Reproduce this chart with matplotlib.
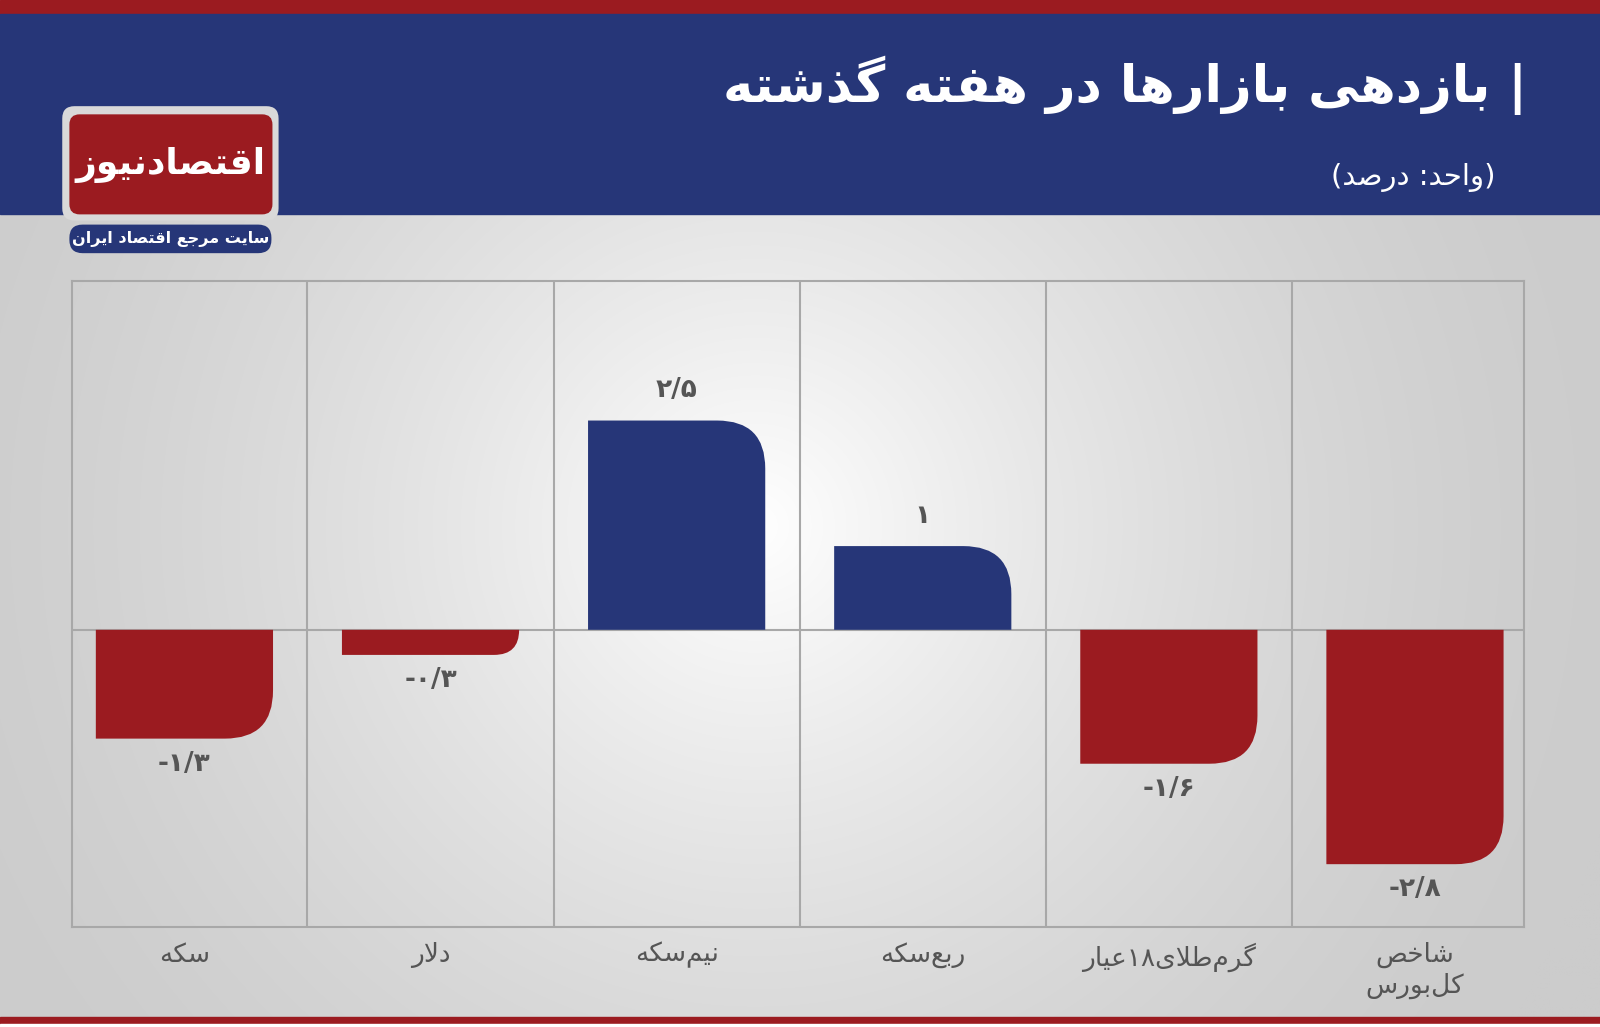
import numpy as np
import matplotlib
matplotlib.use("Agg")
import matplotlib.pyplot as plt
from matplotlib.path import Path
from matplotlib.patches import PathPatch, FancyBboxPatch, Rectangle

plt.rcParams['font.family'] = ['DejaVu Sans']

# ---------------- data ----------------
categories = ["سکه", "دلار", "نیم\u200cسکه", "ربع\u200cسکه", "گرم\u200cطلای۱۸عیار", "شاخص\nکل\u200cبورس"]
values = [-1.3, -0.3, 2.5, 1.0, -1.6, -2.8]
value_labels = ["-۱/۳", "-۰/۳", "۲/۵", "۱", "-۱/۶", "-۲/۸"]
title = "| بازدهی بازارها در هفته گذشته"
subtitle = "(واحد: درصد)"
logo_text = "اقتصادنیوز"
logo_sub = "سایت مرجع اقتصاد ایران"

# ------------- minimal Arabic/Persian shaper -------------
FORMS = {  # iso, fin, ini, med
    'ا': ('\uFE8D', '\uFE8E', None, None), 'ب': ('\uFE8F', '\uFE90', '\uFE91', '\uFE92'),
    'ت': ('\uFE95', '\uFE96', '\uFE97', '\uFE98'), 'ج': ('\uFE9D', '\uFE9E', '\uFE9F', '\uFEA0'),
    'ح': ('\uFEA1', '\uFEA2', '\uFEA3', '\uFEA4'), 'خ': ('\uFEA5', '\uFEA6', '\uFEA7', '\uFEA8'),
    'د': ('\uFEA9', '\uFEAA', None, None), 'ذ': ('\uFEAB', '\uFEAC', None, None),
    'ر': ('\uFEAD', '\uFEAE', None, None), 'ز': ('\uFEAF', '\uFEB0', None, None),
    'س': ('\uFEB1', '\uFEB2', '\uFEB3', '\uFEB4'), 'ش': ('\uFEB5', '\uFEB6', '\uFEB7', '\uFEB8'),
    'ص': ('\uFEB9', '\uFEBA', '\uFEBB', '\uFEBC'), 'ط': ('\uFEC1', '\uFEC2', '\uFEC3', '\uFEC4'),
    'ع': ('\uFEC9', '\uFECA', '\uFECB', '\uFECC'), 'ف': ('\uFED1', '\uFED2', '\uFED3', '\uFED4'),
    'ق': ('\uFED5', '\uFED6', '\uFED7', '\uFED8'), 'ک': ('\uFB8E', '\uFB8F', '\uFB90', '\uFB91'),
    'گ': ('\uFB92', '\uFB93', '\uFB94', '\uFB95'), 'ل': ('\uFEDD', '\uFEDE', '\uFEDF', '\uFEE0'),
    'م': ('\uFEE1', '\uFEE2', '\uFEE3', '\uFEE4'), 'ن': ('\uFEE5', '\uFEE6', '\uFEE7', '\uFEE8'),
    'ه': ('\uFEE9', '\uFEEA', '\uFEEB', '\uFEEC'), 'و': ('\uFEED', '\uFEEE', None, None),
    'ی': ('\uFBFC', '\uFBFD', '\uFBFE', '\uFBFF'), 'LA': ('\uFEFB', '\uFEFC', None, None),
}

def shape_line(s):
    toks = []
    i = 0
    while i < len(s):
        if s[i] == 'ل' and i + 1 < len(s) and s[i + 1] == 'ا':
            toks.append('LA'); i += 2
        else:
            toks.append(s[i]); i += 1
    out = []
    for k, t in enumerate(toks):
        if t not in FORMS:
            out.append(t); continue
        prev = toks[k - 1] if k > 0 else None
        nxt = toks[k + 1] if k + 1 < len(toks) else None
        cp = prev in FORMS and FORMS[prev][2] is not None
        cn = nxt in FORMS and FORMS[t][2] is not None
        f = FORMS[t]
        out.append(f[3] if cp and cn else f[1] if cp else f[2] if cn else f[0])
    out = [c for c in out if c != '\u200c']
    def is_ltr(c):
        return c.isdigit() or c in '٫.' or ('a' <= c.lower() <= 'z')
    runs = []
    for c in out:
        l = is_ltr(c)
        if runs and runs[-1][0] == l:
            runs[-1][1].append(c)
        else:
            runs.append([l, [c]])
    vis = []
    for l, cs in reversed(runs):
        vis.extend(cs if l else reversed(cs))
    mirror = {'(': ')', ')': '('}
    return ''.join(mirror.get(c, c) for c in vis)

def fa(s):
    return '\n'.join(shape_line(x) for x in s.split('\n'))

# ---------------- figure ----------------
W, H = 1568, 1006   # layout coordinate frame
fig = plt.figure(figsize=(16, 10.27), dpi=100)

bg = fig.add_axes([0, 0, 1, 1])
bg.set_xlim(0, W); bg.set_ylim(H, 0); bg.axis('off')
yy, xx = np.mgrid[0:H, 0:W]
d = np.sqrt((xx - 740) ** 2 + (yy - 515) ** 2)
g = np.clip(1 - d / 880, 0, 1)
lum = 0.80 + 0.20 * g ** 1.6
img = np.dstack([lum, lum, lum])
bg.imshow(img, extent=[0, W, H, 0], aspect='auto', zorder=0)
blue = '#263678'
red = '#9b1b20'
bg.add_patch(Rectangle((0, 0), W, 14, color=red, zorder=1))
bg.add_patch(Rectangle((0, 14), W, 196, color=blue, zorder=1))
bg.add_patch(Rectangle((0, 996), W, 8, color=red, zorder=1))
bg.add_patch(Rectangle((0, 1003), W, 3, color='white', zorder=1))
bg.text(1496, 84, fa(title), color='white', fontsize=37, fontweight='bold', ha='right', va='center', zorder=2)
bg.text(1466, 174, fa(subtitle), color='white', fontsize=21, ha='right', va='center', zorder=2)
# logo
bg.add_patch(FancyBboxPatch((61, 104), 212, 112, boxstyle='round,pad=0,rounding_size=12', fc='#d9d9d9', ec='none', zorder=2))
bg.add_patch(FancyBboxPatch((68, 112), 199, 98, boxstyle='round,pad=0,rounding_size=10', fc=red, ec='none', zorder=3))
bg.text(167, 162, fa(logo_text), color='white', fontsize=26, fontweight='bold', ha='center', va='center', zorder=4)
bg.add_patch(FancyBboxPatch((68, 220), 198, 28, boxstyle='round,pad=0,rounding_size=13', fc=blue, ec='none', zorder=3))
bg.text(167, 234, fa(logo_sub), color='white', fontsize=11.5, fontweight='bold', ha='center', va='center', zorder=4)

# ---------------- chart ----------------
ax = fig.add_axes([71 / W, 1 - 908 / H, (1494 - 71) / W, (908 - 275) / H])
ax.patch.set_alpha(0)
ax.set_xlim(-0.455, 5.445)
ax.set_ylim(-3.55, 4.17)
for s in ax.spines.values():
    s.set_color('#a8a8a8'); s.set_linewidth(1.5)
ax.set_xticks([]); ax.set_yticks([])
for k in range(len(values) - 1):
    ax.axvline(k + 0.5, color='#a8a8a8', lw=1.5, zorder=1)
ax.axhline(0, color='#a8a8a8', lw=1.5, zorder=1)

fig.canvas.draw()
bw = 0.72
trans = ax.transData
for k, v in enumerate(values):
    x0, y0 = trans.transform((k - bw / 2, 0))
    x1, y1 = trans.transform((k + bw / 2, v))
    h = abs(y1 - y0)
    r = min(48, h, (x1 - x0) / 2)
    sgn = 1 if y1 > y0 else -1
    verts = [(x0, y0), (x0, y1), (x1 - r, y1), (x1, y1), (x1, y1 - sgn * r), (x1, y0), (x0, y0)]
    codes = [Path.MOVETO, Path.LINETO, Path.LINETO, Path.CURVE3, Path.CURVE3, Path.LINETO, Path.CLOSEPOLY]
    col = blue if v > 0 else red
    ax.add_patch(PathPatch(Path(verts, codes), fc=col, ec='none', transform=None, zorder=3))
    off = 0.36 if v > 0 else -0.3
    ax.text(k, v + off, value_labels[k], ha='center', va='center', fontsize=19, fontweight='bold', color='#555555', zorder=4)
    ax.text(k, -3.73, fa(categories[k]), ha='center', va='top', fontsize=19, color='#555555', linespacing=1.2, clip_on=False)

fig.savefig('out.png', dpi=100)
